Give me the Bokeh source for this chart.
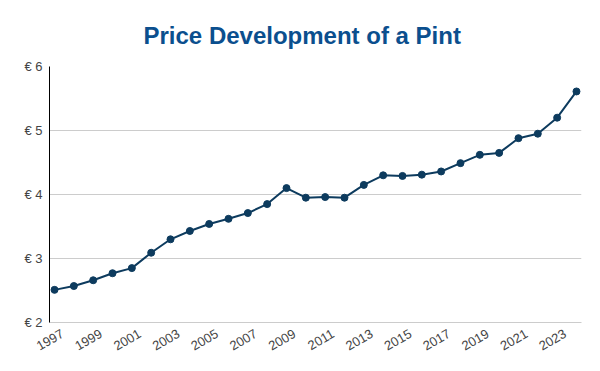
from bokeh.plotting import figure
from bokeh.models import FixedTicker, PrintfTickFormatter, Range1d, ColumnDataSource, LinearAxis
from bokeh.embed import file_html
from bokeh.resources import INLINE
import math

years = list(range(1997, 2025))
prices = [2.51, 2.57, 2.66, 2.77, 2.85, 3.09, 3.30, 3.43, 3.54, 3.62,
          3.71, 3.85, 4.10, 3.95, 3.96, 3.95, 4.15, 4.30, 4.29, 4.31,
          4.36, 4.49, 4.62, 4.65, 4.88, 4.95, 5.20, 5.61]
x_ticks = list(range(1997, 2024, 2))
y_ticks = [2, 3, 4, 5, 6]
title_text = "Price Development of a Pint"

src = ColumnDataSource(dict(year=years, price=prices))

x0, x1 = 1996.74, 2024.26
label_shift = 0.41  # tick labels sit slightly right of their points, as in the reference

p = figure(width=600, height=371, output_backend="svg", toolbar_location=None,
           x_range=Range1d(x0, x1), y_range=Range1d(2, 6), x_axis_type=None,
           min_border_left=49, min_border_right=19, min_border_bottom=49,
           min_border_top=66, title=title_text)
p.extra_x_ranges = {"labels": Range1d(x0 - label_shift, x1 - label_shift)}

p.title.align = "left"
p.title.offset = 94
p.title.text_font = "Liberation Sans"
p.title.text_font_size = "24px"
p.title.text_font_style = "bold"
p.title.text_color = "#0b4f8e"
p.title.standoff = 36

p.outline_line_color = None
p.ygrid.grid_line_color = "#cccccc"
p.ygrid.grid_line_width = 1

p.yaxis.ticker = FixedTicker(ticks=y_ticks)
p.yaxis.formatter = PrintfTickFormatter(format="€ %d")
p.yaxis.axis_line_color = "black"
p.yaxis.major_tick_line_color = None
p.yaxis.minor_tick_line_color = None
p.yaxis.major_tick_out = 0
p.yaxis.major_tick_in = 0
p.yaxis.major_label_text_font = "Liberation Sans"
p.yaxis.major_label_text_font_size = "13px"
p.yaxis.major_label_text_color = "#444444"
p.yaxis.major_label_standoff = 7

xax = LinearAxis(x_range_name="labels", ticker=FixedTicker(ticks=x_ticks))
xax.axis_line_color = "#cccccc"
xax.major_tick_line_color = None
xax.minor_tick_line_color = None
xax.major_tick_out = 0
xax.major_tick_in = 0
xax.major_label_orientation = math.pi / 6
xax.major_label_text_font = "Liberation Sans"
xax.major_label_text_font_size = "13px"
xax.major_label_text_color = "#444444"
xax.major_label_standoff = 10
p.add_layout(xax, "below")

p.line("year", "price", source=src, line_color="#0d3b5e", line_width=2)
p.scatter("year", "price", source=src, size=7, fill_color="#0d3b5e", line_color="#0d3b5e")

open("out.html", "w").write(file_html(p, INLINE))
